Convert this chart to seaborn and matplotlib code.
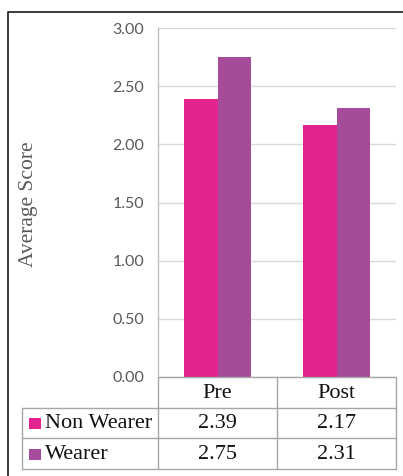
import matplotlib
matplotlib.use("Agg")
import matplotlib.pyplot as plt
from matplotlib.lines import Line2D
from matplotlib.patches import Rectangle
import seaborn as sns
import pandas as pd

# Average score by period and group
periods = ["Pre", "Post"]
groups = ["Non Wearer", "Wearer"]
non_wearer = [2.39, 2.17]
wearer = [2.75, 2.31]
y_ticks = [0.0, 0.5, 1.0, 1.5, 2.0, 2.5, 3.0]

colors = {"Non Wearer": "#E32490", "Wearer": "#A64B9A"}

df = pd.DataFrame({
    "Period": periods * 2,
    "Group": [groups[0]] * len(periods) + [groups[1]] * len(periods),
    "Score": non_wearer + wearer,
})

W, H = 403, 476
sns.set_theme(style="white")
fig = plt.figure(figsize=(W / 100, H / 100), dpi=100)
fig.patch.set_facecolor("white")


def fx(x):
    return x / W


def fy(y):
    return 1 - y / H


ax_l, ax_r, ax_t, ax_b = 158, 396, 28, 377
ax = fig.add_axes([fx(ax_l), fy(ax_b), (ax_r - ax_l) / W, (ax_b - ax_t) / H])

sns.barplot(data=df, x="Period", y="Score", hue="Group", order=periods,
            hue_order=groups, palette=colors, width=0.57, saturation=1,
            linewidth=0, legend=False, ax=ax, zorder=3)

ax.set_ylim(0, 3.0)
ax.set_xlim(-0.5, 1.5)
ax.set_yticks(y_ticks)
ax.set_yticklabels([f"{v:.2f}" for v in y_ticks], fontfamily="Lato",
                   fontsize=11.5, color="#595959")
ax.tick_params(axis="y", length=0, pad=10)
ax.set_xticks([])
ax.set_xlabel("")
ax.set_ylabel("")
ax.yaxis.grid(True, color="#D9D9D9", linewidth=1.0, zorder=0)
ax.set_axisbelow(True)
for side in ["top", "right", "bottom"]:
    ax.spines[side].set_visible(False)
ax.spines["left"].set_color("#BFBFBF")
ax.spines["left"].set_linewidth(1.0)

fig.text(fx(28), fy(204), "Average Score", rotation=90, ha="center",
         va="center", fontfamily="Liberation Serif", fontsize=15.5,
         color="#595959")

# Data table below the axis
line_kw = dict(color="#A6A6A6", linewidth=1.0)


def hline(x0, x1, y):
    fig.add_artist(Line2D([fx(x0), fx(x1)], [fy(y), fy(y)], **line_kw))


def vline(x, y0, y1):
    fig.add_artist(Line2D([fx(x), fx(x)], [fy(y0), fy(y1)], **line_kw))


col_x = [22, 158, 277, 396]
row_y = [377, 407.5, 438, 469]

hline(158, 396, row_y[0])
for y in row_y[1:]:
    hline(col_x[0], col_x[3], y)
vline(col_x[0], row_y[1], row_y[3])
for x in col_x[1:]:
    vline(x, row_y[0], row_y[3])

txt_kw = dict(fontfamily="Liberation Serif", fontsize=16, color="#111111",
              ha="center", va="center")
for i, p in enumerate(periods):
    cx = (col_x[i + 1] + col_x[i + 2]) / 2
    fig.text(fx(cx), fy((row_y[0] + row_y[1]) / 2 + 1), p, **txt_kw)

for r, (g, vals) in enumerate(zip(groups, [non_wearer, wearer])):
    cy = (row_y[r + 1] + row_y[r + 2]) / 2 + 1
    fig.add_artist(Rectangle((fx(29), fy(cy + 5.5)), 12 / W, 11 / H,
                             transform=fig.transFigure,
                             facecolor=colors[g], edgecolor="none"))
    fig.text(fx(45), fy(cy), g, fontfamily="Liberation Serif", fontsize=16,
             color="#111111", ha="left", va="center")
    for i, v in enumerate(vals):
        cx = (col_x[i + 1] + col_x[i + 2]) / 2
        fig.text(fx(cx), fy(cy), f"{v:.2f}", **txt_kw)

# Outer frame (top and left edges)
fig.add_artist(Line2D([fx(8), fx(8), fx(403)], [fy(476), fy(12), fy(12)],
                      color="#2b2b2b", linewidth=1.3))

fig.savefig("out.png", dpi=100, facecolor="white")
